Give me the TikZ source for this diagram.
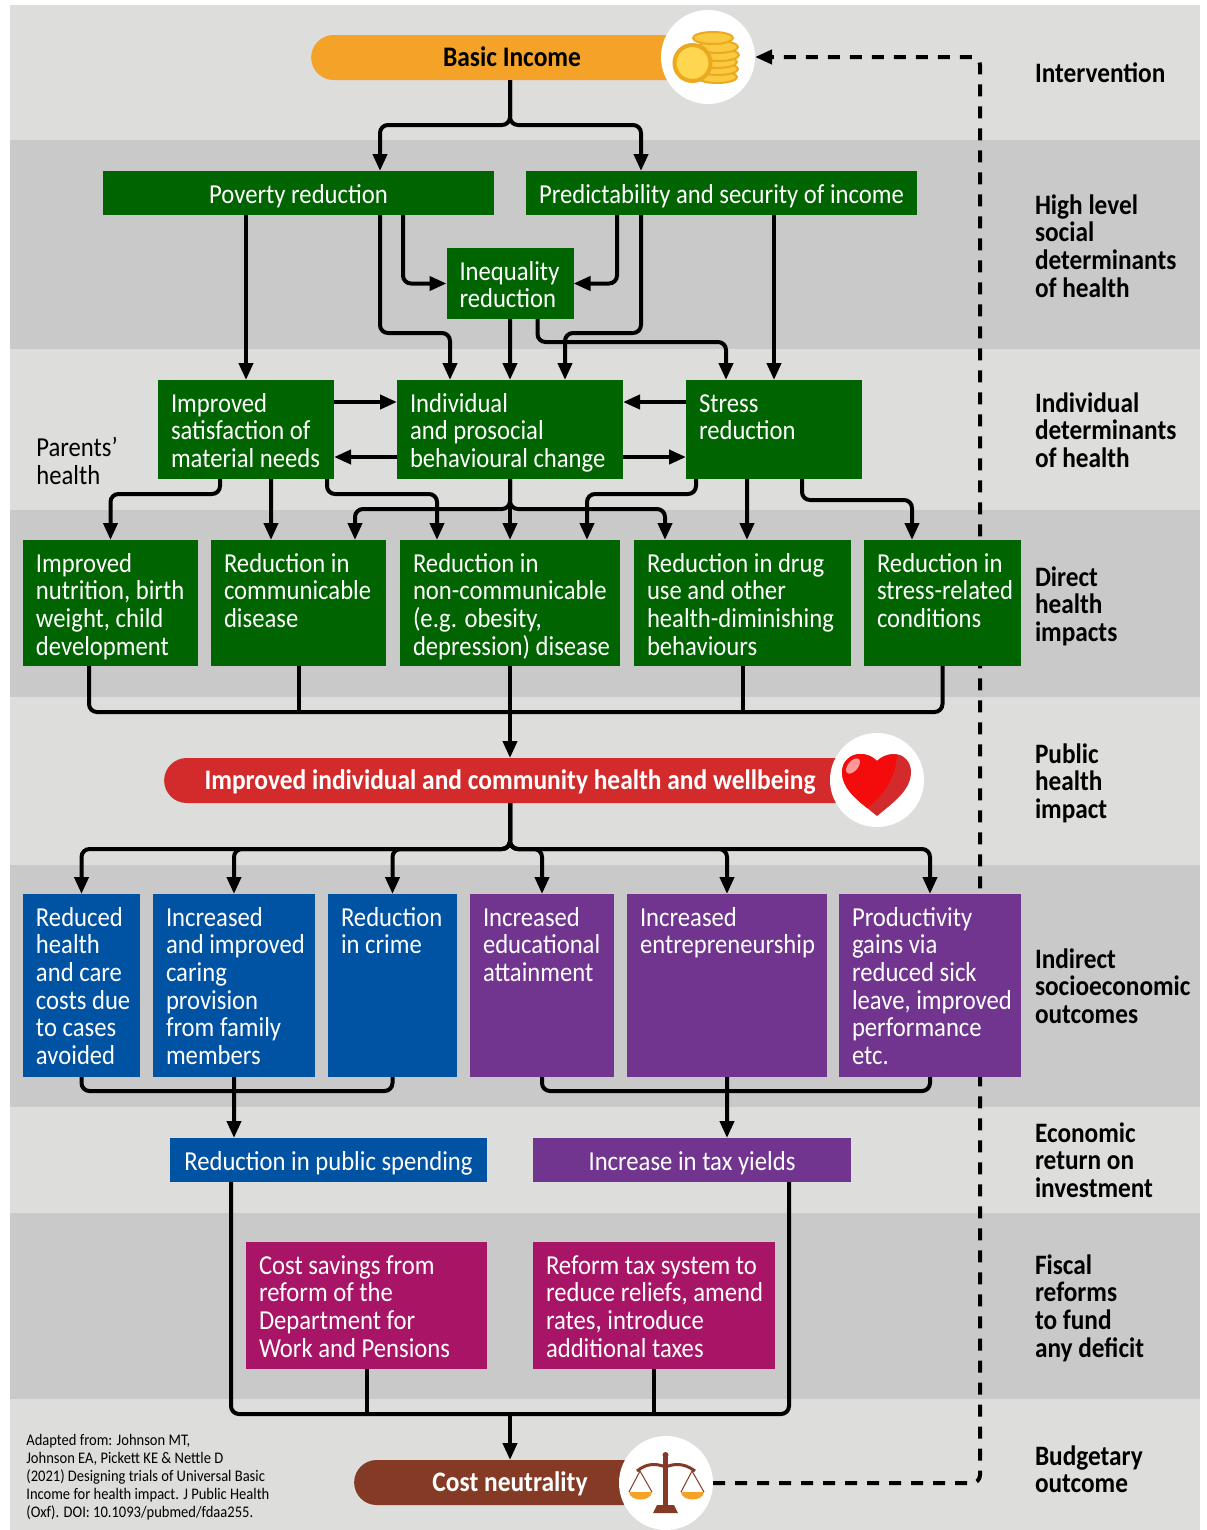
\documentclass[tikz,border=0pt]{standalone}
\usepackage{fontspec}
\usepackage{xcolor}
\setmainfont[FakeStretch=0.9]{Carlito}
\usetikzlibrary{arrows.meta,shapes.misc}

\definecolor{bandlight}{HTML}{DDDDDC}
\definecolor{banddark}{HTML}{C9C9C9}
\definecolor{detgreen}{HTML}{006400}
\definecolor{incorange}{HTML}{F5A228}
\definecolor{wellred}{HTML}{D32B2B}
\definecolor{soblue}{HTML}{0052A2}
\definecolor{sopurple}{HTML}{72358F}
\definecolor{fismagenta}{HTML}{A81466}
\definecolor{costbrown}{HTML}{843A24}
\definecolor{coinedge}{HTML}{EBA91F}
\definecolor{coinfill}{HTML}{FFD64F}

\newcommand{\bodyfnt}{\fontsize{15.6}{15.76}\selectfont}

\tikzset{
	txtbox/.style n args={3}{anchor=north west, fill=#1, text=white, font=\bodyfnt, align=flush left, outer sep=0, inner sep=0,
		execute at begin node={\leftskip=2.6mm\relax},
		text width={(#2)*0.2mm}, text height=6.4mm, text depth={((#3)-32)*0.2mm}},
	linebox/.style n args={3}{anchor=north west, fill=#1, text=white, font=\bodyfnt, outer sep=0, inner sep=0,
		minimum width={(#2)*0.2mm}, minimum height={(#3)*0.2mm}, text height=5mm, text depth=1mm},
	pill/.style n args={3}{rounded rectangle, rounded rectangle right arc=none, fill=#1, text=#3, outer sep=0, inner sep=0,
		minimum width={(#2)*0.2mm}, minimum height=9mm, text height=4.8mm, text depth=1.2mm, font=\fontsize{16.1}{18}\selectfont\bfseries},
	iconbg/.style={circle, fill=white, minimum size=18.8mm, inner sep=0, outer sep=0},
	rowlabel/.style={anchor=north west, inner sep=0, outer sep=0, text width=34mm, align=flush left, text height=6.4mm, font=\fontsize{16}{15.76}\selectfont\bfseries},
	conn/.style={line width=0.8mm, rounded corners=1.6mm, -{Triangle[length=3.4mm,width=2.8mm]}},
	plainconn/.style={line width=0.8mm, rounded corners=1.6mm},
}

\begin{document}
\begin{tikzpicture}[x=0.2mm,y=-0.2mm]
	\useasboundingbox (0,0) rectangle (1206,1530);
	\foreach \ya/\yb/\col in {5/140/bandlight,140/349/banddark,349/510/bandlight,510/697/banddark,697/865/bandlight,865/1107/banddark,1107/1213/bandlight,1213/1399/banddark,1399/1530/bandlight}
		\fill[\col] (10,\ya) rectangle (1200,\yb);

	% pills and their icons
	\node[pill={incorange}{392}{black}] (income) at (510,57.5) {\hspace*{0.8mm}Basic Income};
	\node[pill={wellred}{686}{white}] (health) at (510,780.5) {Improved individual and community health and wellbeing};
	\node[pill={costbrown}{306}{white}] (cost) at (510,1482.5) {Cost neutrality};
	\node[iconbg] (coins) at (708,57) {};
	\node[iconbg] (heart) at (877,780) {};
	\node[iconbg] (scales) at (666,1483) {};

	\foreach \x/\y in {717/77,718/69,717/62,719/55,718/47,713/38}
		\filldraw[draw=coinedge, fill=coinfill!70!coinedge, line width=0.4mm] (\x,\y) ellipse [x radius=20, y radius=6];
	\filldraw[draw=coinedge, fill=coinfill, line width=0.8mm] (692.5,63) circle [radius=18];

	\fill[wellred] (877,816) .. controls (860,802) and (842,790) .. (842,772) .. controls (842,761) and (851,754) .. (860,754) .. controls (868,754) and (873,757) .. (877,761) .. controls (881,757) and (886,754) .. (894,754) .. controls (903,754) and (911,761) .. (911,772) .. controls (911,790) and (894,802) .. (877,816) -- cycle;
	\fill[red!75!wellred] (867,808) .. controls (855,798) and (842,788) .. (842,772) .. controls (842,761) and (851,754) .. (860,754) .. controls (868,754) and (873,757) .. (877,761) .. controls (881,757) and (888,754) .. (897,755) .. controls (896,775) and (885,795) .. (867,808) -- cycle;
	\fill[red!40!white] (853,766) ellipse [x radius=9, y radius=5, rotate=50];

	\fill[costbrown] (663,1457) rectangle (668,1505);
	\fill[costbrown] (665.5,1455) circle [radius=3];
	\fill[costbrown] (657,1505) -- (674,1505) -- (678,1513) -- (653,1513) -- cycle;
	\draw[costbrown, line width=0.6mm] (637,1471) .. controls (648,1462) and (658,1464) .. (665.5,1467) .. controls (673,1464) and (683,1462) .. (695,1471);
	\draw[costbrown, line width=0.2mm] (629,1492) -- (640,1471) -- (652,1492) (681,1492) -- (692,1471) -- (704,1492);
	\fill[incorange] (629,1492) .. controls (630,1502) and (651,1502) .. (652,1492) -- cycle;
	\fill[incorange] (681,1492) .. controls (682,1502) and (703,1502) .. (704,1492) -- cycle;

	% dashed return passes behind the boxes
	\draw[conn, dash pattern=on 2.4mm off 2mm] (scales.east) -- ++(267,0) |- (coins.east);

	% boxes
	\node[linebox={detgreen}{391}{44}] (poverty) at (103,171) {Poverty reduction};
	\node[linebox={detgreen}{391}{44}] (predict) at (526,171) {Predictability and security of income};
	\node[txtbox={detgreen}{127}{71}] (inequal) at (446.5,248) {Inequality\\reduction};
	\node[txtbox={detgreen}{176}{99}] (needs) at (158,380) {Improved\\satisfaction of\\material needs};
	\node[txtbox={detgreen}{226}{99}] (prosoc) at (397,380) {Individual\\and prosocial\\behavioural change};
	\node[txtbox={detgreen}{176}{99}] (stress) at (686,380) {Stress\\reduction};

	\node[txtbox={detgreen}{175}{126}] (nutri) at (23,540) {Improved\\nutrition, birth\\weight, child\\development};
	\node[txtbox={detgreen}{175}{126}] (commun) at (211,540) {Reduction in\\communicable\\disease};
	\node[txtbox={detgreen}{220}{126}] (noncom) at (400,540) {Reduction in\\non-communicable\\(e.g. obesity,\\depression) disease};
	\node[txtbox={detgreen}{217}{126}] (drug) at (634,540) {Reduction in drug\\use and other\\health-diminishing\\behaviours};
	\node[txtbox={detgreen}{157}{126}] (strcond) at (864,540) {Reduction in\\stress-related\\conditions};

	\node[txtbox={soblue}{117}{183}] (costs) at (23,894) {Reduced\\health\\and care\\costs due\\to cases\\avoided};
	\node[txtbox={soblue}{162}{183}] (caring) at (153,894) {Increased\\and improved\\caring\\provision\\from family\\members};
	\node[txtbox={soblue}{129}{183}] (crime) at (328,894) {Reduction\\in crime};
	\node[txtbox={sopurple}{144}{183}] (educ) at (470,894) {Increased\\educational\\attainment};
	\node[txtbox={sopurple}{200}{183}] (entre) at (627,894) {Increased\\entrepreneurship};
	\node[txtbox={sopurple}{182}{183}] (prodgain) at (839,894) {Productivity\\gains via\\reduced sick\\leave, improved\\performance\\etc.};

	\node[linebox={soblue}{317}{44}] (spend) at (170,1138) {Reduction in public spending};
	\node[linebox={sopurple}{318}{44}] (taxyield) at (533,1138) {Increase in tax yields};
	\node[txtbox={fismagenta}{241}{127}] (dwp) at (246,1242) {Cost savings from\\reform of the\\Department for\\Work and Pensions};
	\node[txtbox={fismagenta}{242}{127}] (reform) at (533,1242) {Reform tax system to\\reduce reliefs, amend\\rates, introduce\\additional taxes};

	% row labels
	\node[rowlabel] (lbl1) at (1035,50) {Intervention};
	\node[rowlabel] (lbl2) at (1035,182) {High level\\social\\determinants\\of health};
	\node[rowlabel] (lbl3) at (1035,380) {Individual\\determinants\\of health};
	\node[rowlabel] (lbl4) at (1035,554) {Direct\\health\\impacts};
	\node[rowlabel] (lbl5) at (1035,731) {Public\\health\\impact};
	\node[rowlabel] (lbl6) at (1035,936) {Indirect\\socioeconomic\\outcomes};
	\node[rowlabel] (lbl7) at (1035,1110) {Economic\\return on\\investment};
	\node[rowlabel] (lbl8) at (1035,1242) {Fiscal\\reforms\\to fund\\any deficit};
	\node[rowlabel] (lbl9) at (1035,1433) {Budgetary\\outcome};

	\node[anchor=north west, inner sep=0, text width=30mm, align=flush left, text height=6.4mm, font=\bodyfnt] (parents) at (36,424) {Parents'\\health};
	\node[anchor=north west, inner sep=0, text width=60mm, align=flush left, font=\fontsize{9.2}{10.2}\selectfont] (source) at (26,1434) {Adapted from: Johnson MT,\\Johnson EA, Pickett KE \& Nettle D\\(2021) Designing trials of Universal Basic\\Income for health impact. J Public Health\\(Oxf). DOI: 10.1093/pubmed/fdaa255.};

	% connectors
	\draw[conn] (income.south) -- ++(0,45) -| ([xshift=16.3mm]poverty.north);
	\draw[conn] (income.south) -- ++(0,45) -| ([xshift=-16.1mm]predict.north);

	\draw[conn] (poverty.south -| needs.north) -- (needs.north);
	\draw[conn] ([xshift=16.3mm]poverty.south) -- ++(0,118) -| ([xshift=-12mm]prosoc.north);
	\draw[conn] ([xshift=20.9mm]poverty.south) |- (inequal.west);
	\draw[conn] ([xshift=-20.9mm]predict.south) |- (inequal.east);
	\draw[conn] ([xshift=-16.1mm]predict.south) -- ++(0,118) -| ([xshift=11mm]prosoc.north);
	\draw[conn] (predict.south -| stress.north) -- (stress.north);
	\draw[conn] (inequal.south) -- (prosoc.north);
	\draw[conn] ([xshift=5.5mm]inequal.south) -- ++(0,23) -| ([xshift=-9.6mm]stress.north);

	\draw[conn] ([yshift=5.5mm]needs.east) -- ([yshift=5.5mm]prosoc.west);
	\draw[conn] ([yshift=-5.5mm]prosoc.west) -- ([yshift=-5.5mm]needs.east);
	\draw[conn] ([yshift=5.5mm]stress.west) -- ([yshift=5.5mm]prosoc.east);
	\draw[conn] ([yshift=-5.5mm]prosoc.east) -- ([yshift=-5.5mm]stress.west);

	\draw[conn] ([xshift=-5.2mm]needs.south) -- ++(0,15) -| (nutri.north);
	\draw[conn] ([xshift=5mm]needs.south) -- ([xshift=-5.5mm]commun.north);
	\draw[conn] ([xshift=16.2mm]needs.south) -- ++(0,15) -| ([xshift=-14.6mm]noncom.north);
	\draw[conn] (prosoc.south) -- (noncom.north);
	\draw[conn] (prosoc.south) -- ++(0,30) -| ([xshift=11.3mm]commun.north);
	\draw[conn] (prosoc.south) -- ++(0,30) -| ([xshift=-15.5mm]drug.north);
	\draw[conn] ([xshift=-15.6mm]stress.south) -- ++(0,15) -| ([xshift=15.4mm]noncom.north);
	\draw[conn] ([xshift=-5.4mm]stress.south) -- ([xshift=0.9mm]drug.north);
	\draw[conn] ([xshift=5.6mm]stress.south) -- ++(0,21) -| ([xshift=-6.1mm]strcond.north);

	\draw[plainconn] ([xshift=-4.3mm]nutri.south) -- ++(0,46) -| (strcond.south);
	\draw[plainconn] (commun.south) -- ++(0,46);
	\draw[plainconn] (drug.south) -- ++(0,46);
	\draw[conn] (noncom.south) -- (health.north);

	\foreach \tgt in {costs,caring,crime,educ,entre,prodgain}
		\draw[conn] (health.south) -- ++(0,46) -| (\tgt.north);

	\draw[plainconn] (costs.south) -- ++(0,14) -| (crime.south);
	\draw[conn] (caring.south) -- ([xshift=-18.9mm]spend.north);
	\draw[plainconn] (educ.south) -- ++(0,14) -| (prodgain.south);
	\draw[conn] (entre.south) -- ([xshift=7mm]taxyield.north);

	\coordinate (costin) at (510,1414);
	\draw[plainconn] ([xshift=-19.5mm]spend.south) -- ++(0,232) -| ([xshift=19.4mm]taxyield.south);
	\draw[plainconn] (dwp.south) -- ++(0,45);
	\draw[plainconn] (reform.south) -- ++(0,45);
	\draw[conn] (costin) -- (cost.north);
\end{tikzpicture}
\end{document}
